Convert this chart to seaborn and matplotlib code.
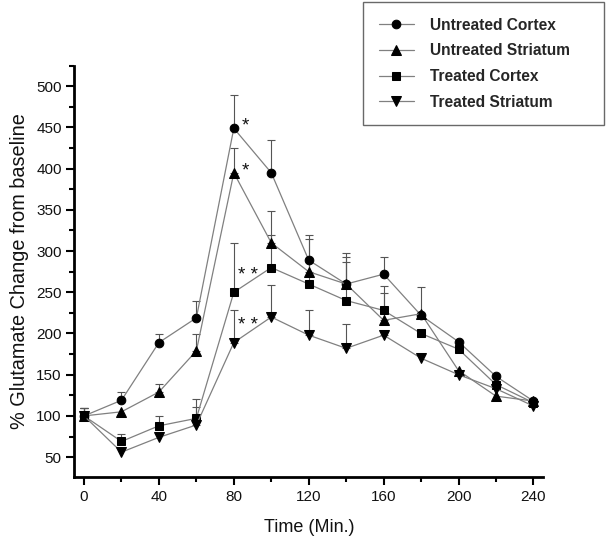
import matplotlib
matplotlib.use("Agg")
import matplotlib.pyplot as plt
from matplotlib.ticker import MultipleLocator
import numpy as np
import pandas as pd
import seaborn as sns

time = [0, 20, 40, 60, 80, 100, 120, 140, 160, 180, 200, 220, 240]
untreated_cortex = [100, 119, 189, 219, 449, 395, 289, 260, 272, 222, 190, 148, 118]
untreated_striatum = [100, 105, 129, 179, 395, 310, 275, 260, 216, 224, 155, 124, 118]
treated_cortex = [100, 69, 88, 97, 250, 280, 260, 240, 228, 200, 181, 138, 116]
treated_striatum = [100, 56, 74, 89, 189, 220, 198, 182, 198, 170, 150, 133, 112]
err_untreated_cortex = [10, 10, 10, 20, 40, 40, 30, 38, 21, 34, 0, 0, 0]
err_untreated_striatum = [10, 0, 10, 20, 30, 39, 40, 33, 33, 0, 0, 0, 0]
err_treated_cortex = [10, 9, 12, 24, 60, 40, 30, 47, 30, 0, 0, 0, 0]
err_treated_striatum = [10, 0, 0, 22, 40, 39, 30, 30, 5, 0, 0, 0, 0]
series_names = ["Untreated Cortex", "Untreated Striatum", "Treated Cortex", "Treated Striatum"]
series_markers = ["o", "^", "s", "v"]
stars_text = ["*", "*", "* *", "* *"]
stars_x = [84.0, 84.0, 82.3, 82.3]
stars_y = [452, 397, 270, 210]

values = [untreated_cortex, untreated_striatum, treated_cortex, treated_striatum]
errors = [err_untreated_cortex, err_untreated_striatum, err_treated_cortex, err_treated_striatum]

sns.set_style("ticks")
plt.rcParams['font.family'] = ['Liberation Sans', 'DejaVu Sans']

fig = plt.figure(figsize=(6.06, 5.36), dpi=100)
ax = fig.add_axes([0.1226, 0.1095, 0.774, 0.768])

line_color = "#808080"
msizes = {"o": 6.2, "^": 6.5, "s": 5.3, "v": 6.5}
for name, mk, vals, errs in zip(series_names, series_markers, values, errors):
    df = pd.DataFrame({"Time": time, "Value": vals})
    sns.lineplot(data=df, x="Time", y="Value", ax=ax, color=line_color, lw=0.9,
                 marker=mk, markersize=msizes[mk], markerfacecolor="black",
                 markeredgecolor="black", label=name, zorder=3)
    e = np.array(errs, dtype=float)
    mask = e > 0
    ax.errorbar(np.array(time)[mask], np.array(vals)[mask],
                yerr=[np.zeros(mask.sum()), e[mask]], fmt="none",
                ecolor="#555555", elinewidth=0.8, capsize=3, capthick=0.8, zorder=2)

for t, sx, sy in zip(stars_text, stars_x, stars_y):
    ax.text(sx, sy, t, fontsize=13.5, ha="left", va="center", color="#111111")

ax.set_xlim(-5.2, 245.3)
ax.set_ylim(25.5, 525)
ax.xaxis.set_major_locator(MultipleLocator(40))
ax.xaxis.set_minor_locator(MultipleLocator(20))
ax.yaxis.set_minor_locator(MultipleLocator(25))
ax.set_yticks(np.arange(50, 501, 50))
ax.tick_params(axis="both", which="major", length=6, width=1.5, labelsize=11, color="black", labelcolor="#111111", pad=3)
ax.tick_params(axis="both", which="minor", length=3.5, width=1.5, color="black")
for s in ["top", "right"]:
    ax.spines[s].set_visible(False)
for s in ["left", "bottom"]:
    ax.spines[s].set_linewidth(2)
    ax.spines[s].set_color("black")

ax.set_xlabel("Time (Min.)", fontsize=13, color="#111111", labelpad=11)
ax.set_ylabel("% Glutamate Change from baseline", fontsize=14.3, color="#111111", labelpad=5)

handles, labels = ax.get_legend_handles_labels()
ax.get_legend().remove()
leg = fig.legend(handles, labels, loc="upper left",
                 bbox_to_anchor=(363 / 606, 1.0 - 127 / 536, 241 / 606, 125 / 536),
                 mode="expand",
                 frameon=True, fancybox=False, edgecolor="#444444",
                 prop={"weight": "bold", "size": 11.2}, handlelength=2.3,
                 labelspacing=0.69, borderpad=1.0, handletextpad=1.0, borderaxespad=0.0)
leg.get_frame().set_linewidth(1.0)

fig.savefig("out.png", dpi=100, facecolor="white")
